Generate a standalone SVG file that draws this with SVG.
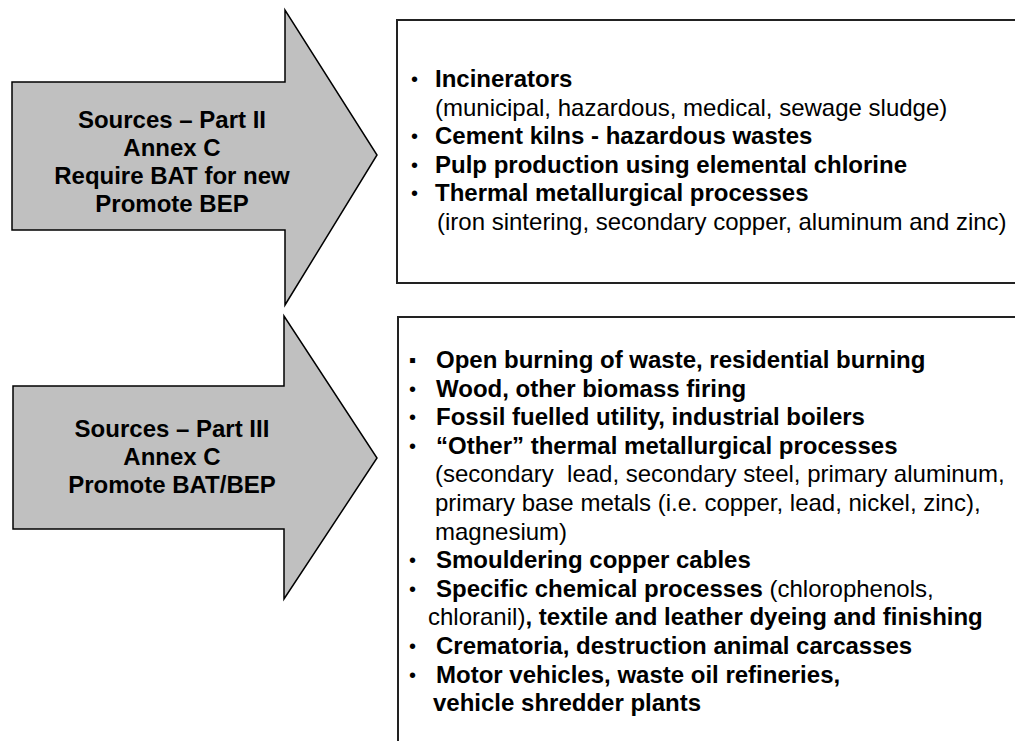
<svg xmlns="http://www.w3.org/2000/svg" width="1015" height="741" viewBox="0 0 1015 741">
<style>
  text { font-family: "Liberation Sans", Arial, sans-serif; fill: #000; }
  .arrow { fill: #c0c0c0; stroke: #000; stroke-width: 1.5; stroke-linejoin: miter; }
  .box { fill: #fff; stroke: #222; stroke-width: 2; }
  .lbl { font-size: 24px; font-weight: bold; text-anchor: middle; }
  .b { font-size: 24px; font-weight: bold; }
  .r { font-size: 24px; font-weight: normal; }
  .dot { font-size: 20px; }
</style>
<rect x="0" y="0" width="1015" height="741" fill="#fff"/>

<g id="arrow-part2">
  <polygon class="arrow" points="12,82 285,82 285,10 377,155 285,305 285,230 12,230"/>
  <text class="lbl" x="172" y="128">Sources – Part II</text>
  <text class="lbl" x="172" y="156">Annex C</text>
  <text class="lbl" x="172" y="184">Require BAT for new</text>
  <text class="lbl" x="172" y="212">Promote BEP</text>
</g>

<g id="box-part2">
  <path class="box" d="M1016,20 H397 V283 H1016"/>
  <text class="dot" x="411" y="86">•</text>
  <text class="b" x="435" y="87">Incinerators</text>
  <text class="r" x="435" y="115.6">(municipal, hazardous, medical, sewage sludge)</text>
  <text class="dot" x="411" y="143">•</text>
  <text class="b" x="435" y="144.2">Cement kilns - hazardous wastes</text>
  <text class="dot" x="411" y="172">•</text>
  <text class="b" x="435" y="172.8">Pulp production using elemental chlorine</text>
  <text class="dot" x="411" y="200">•</text>
  <text class="b" x="435" y="201.4">Thermal metallurgical processes</text>
  <text class="r" x="437" y="230">(iron sintering, secondary copper, aluminum and zinc)</text>
</g>

<g id="arrow-part3">
  <polygon class="arrow" points="13,386 284,386 284,316 377,458 284,599 284,529 13,529"/>
  <text class="lbl" x="172" y="437">Sources – Part III</text>
  <text class="lbl" x="172" y="465">Annex C</text>
  <text class="lbl" x="172" y="493">Promote BAT/BEP</text>
</g>

<g id="box-part3">
  <path class="box" d="M1016,317 H398 V745"/>
  <text class="dot" x="409" y="367">▪</text>
  <text class="b" x="436" y="368">Open burning of waste, residential burning</text>
  <text class="dot" x="409" y="396">•</text>
  <text class="b" x="436" y="396.6">Wood, other biomass firing</text>
  <text class="dot" x="409" y="424">•</text>
  <text class="b" x="436" y="425.2">Fossil fuelled utility, industrial boilers</text>
  <text class="dot" x="409" y="453">•</text>
  <text class="b" x="436" y="453.8">“Other” thermal metallurgical processes</text>
  <text class="r" x="435" y="482.4" xml:space="preserve">(secondary  lead, secondary steel, primary aluminum,</text>
  <text class="r" x="435" y="511">primary base metals (i.e. copper, lead, nickel, zinc),</text>
  <text class="r" x="435" y="539.6">magnesium)</text>
  <text class="dot" x="409" y="567">•</text>
  <text class="b" x="436" y="568.2">Smouldering copper cables</text>
  <text class="dot" x="409" y="596">•</text>
  <text x="436" y="596.8"><tspan class="b">Specific chemical processes</tspan><tspan class="r"> (chlorophenols,</tspan></text>
  <text x="428" y="625.4"><tspan class="r">chloranil)</tspan><tspan class="b">, textile and leather dyeing and finishing</tspan></text>
  <text class="dot" x="409" y="653">•</text>
  <text class="b" x="436" y="654">Crematoria, destruction animal carcasses</text>
  <text class="dot" x="409" y="682">•</text>
  <text class="b" x="436" y="682.6">Motor vehicles, waste oil refineries,</text>
  <text class="b" x="433" y="711.2">vehicle shredder plants</text>
</g>
</svg>
